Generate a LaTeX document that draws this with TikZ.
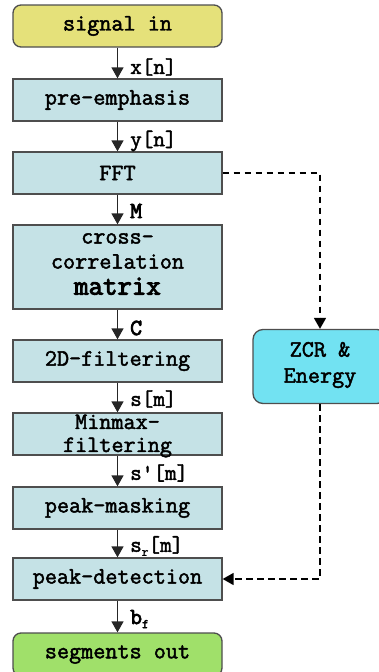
\documentclass[tikz,border=0pt]{standalone}
\usepackage{fontspec}
\usetikzlibrary{arrows.meta,positioning}
\newfontfamily\courfont{Latin Modern Mono}[FakeBold=2]
\newfontfamily\courbold{Latin Modern Mono}[FakeBold=3.5]
\definecolor{procfill}{RGB}{197,226,230}
\definecolor{infill}{RGB}{229,225,122}
\definecolor{outfill}{RGB}{160,224,106}
\definecolor{auxfill}{RGB}{114,226,242}
\definecolor{edge}{RGB}{78,78,78}
\tikzset{
  proc/.style={draw=edge, fill=procfill, line width=1.3pt, minimum width=209pt,
    minimum height=42pt, inner sep=0pt, font=\courfont\fontsize{23.5}{25}\selectfont},
  term/.style={proc, rounded corners=8pt},
  txt/.style={align=center, inner sep=0pt, font=\courfont\fontsize{23.5}{25}\selectfont},
  sig/.style={anchor=west, inner sep=0pt, font=\courfont\fontsize{22.5}{24}\selectfont},
  flow/.style={draw=black!85, line width=1.4pt, -{Triangle[width=12pt,length=11pt]}},
  side/.style={draw=black, line width=1.6pt, dash pattern=on 6.5pt off 4.5pt,
    -{Triangle[width=12pt,length=11pt]}}
}
\begin{document}
\begin{tikzpicture}[x=1pt,y=-1pt]
\path[use as bounding box, clip] (0,0) rectangle (379,672);

% main processing chain
\node[term, fill=infill] (in) at (117.5,26) {signal in};
\node[proc] (pre) at (117.5,100) {pre-emphasis};
\node[proc] (fft) at (117.5,173) {FFT};
\node[proc, minimum height=84pt] (xcorr) at (117.5,267) {};
\node[txt] at (117.5,264) {cross-\\correlation\\[1pt]{\courbold\fontsize{28}{28}\selectfont matrix}};
\node[proc] (filt) at (117.5,361) {2D-filtering};
\node[proc] (minmax) at (117.5,434) {};
\node[txt] at (117.5,436) {Minmax-\\[-2pt]filtering};
\node[proc] (mask) at (117.5,508) {peak-masking};
\node[proc] (detect) at (117.5,579) {peak-detection};
\node[term, fill=outfill, minimum height=43pt] (out) at (117.5,654.5) {segments out};

% side branch
\node[term, fill=auxfill, minimum width=134pt, minimum height=74pt, rounded corners=10pt]
  (zcr) at (320,366.5) {};
\node[txt] at (320,365) {ZCR \&\\[1pt]Energy};

% connectors
\draw[flow] (in.south) -- (pre.north);
\draw[flow] (pre.south) -- (fft.north);
\draw[flow] (fft.south) -- (xcorr.north);
\draw[flow] (xcorr.south) -- (filt.north);
\draw[flow] (filt.south) -- (minmax.north);
\draw[flow] (minmax.south) -- (mask.north);
\draw[flow] (mask.south) -- (detect.north);
\draw[flow] (detect.south) -- (out.north);
\draw[side] (fft.east) -| (zcr.north);
\draw[side] (zcr.south) |- (detect.east);

% signal labels
\node[sig] (lx) at (130,67) {x[n]};
\node[sig] (ly) at (130,141) {y[n]};
\node[sig] (lm) at (130,211) {\courbold\fontsize{23}{24}\selectfont M};
\node[sig] (lc) at (130,328) {\courbold\fontsize{23}{24}\selectfont C};
\node[sig] (ls) at (130,399) {s[m]};
\node[sig] (lsp) at (130,473) {s'[m]};
\node[sig] (lsr) at (130,546) {s\raisebox{-4pt}{\fontsize{13}{13}\selectfont r}[m]};
\node[sig] (lb) at (130,619) {{\courbold\fontsize{23}{24}\selectfont b}\raisebox{-4pt}{\courbold\fontsize{13}{13}\selectfont f}};
\end{tikzpicture}
\end{document}
